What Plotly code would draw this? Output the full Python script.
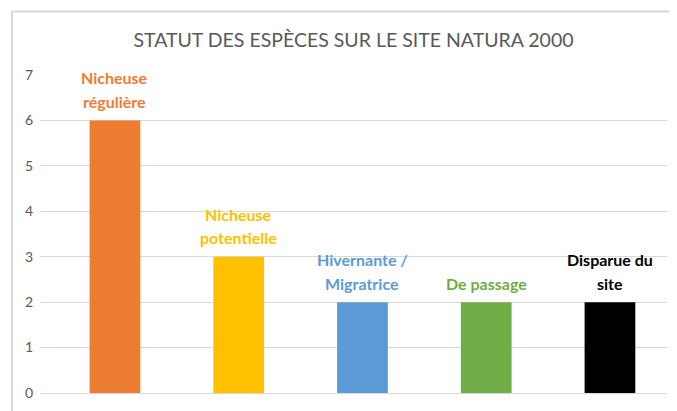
import plotly.graph_objects as go

categories = ["Nicheuse<br>régulière", "Nicheuse<br>potentielle", "Hivernante /<br>Migratrice", "De passage", "Disparue du<br>site"]
values = [6, 3, 2, 2, 2]
colors = ["#ED7D31", "#FFC000", "#5B9BD5", "#70AD47", "#000000"]
title = "STATUT DES ESPÈCES SUR LE SITE NATURA 2000"

font_family = "Lato, 'Open Sans', sans-serif"

fig = go.Figure()
fig.add_trace(go.Bar(
    x=list(range(len(categories))),
    y=values,
    marker=dict(color=colors, line=dict(width=0)),
    width=0.41,
    hoverinfo="skip",
))

annotations = []
for i, (cat, val, col) in enumerate(zip(categories, values, colors)):
    lines = cat.split("<br>")
    n = len(lines)
    for j, line in enumerate(lines):
        k = n - 1 - j  # index from bottom
        annotations.append(dict(
            x=i, y=val, xref="x", yref="y", text=line, showarrow=False,
            xanchor="center", yanchor="middle", yshift=19 + 23.5 * k,
            font=dict(size=16, color=col, family=font_family, weight="bold"),
        ))

fig.update_layout(
    width=669, height=403,
    margin=dict(l=32, r=10, t=67, b=12),
    paper_bgcolor="white", plot_bgcolor="white",
    title=dict(text=title, x=0.5, xref="paper", xanchor="center", y=0.9206, yanchor="middle",
               font=dict(size=19.5, color="#595959", family=font_family)),
    showlegend=False,
    annotations=annotations,
    xaxis=dict(range=[-0.606, 4.461], showticklabels=False, showgrid=False, zeroline=False,
               showline=False, ticks=""),
    yaxis=dict(range=[0, 7], dtick=1, showgrid=True, gridcolor="#D9D9D9", gridwidth=1,
               zeroline=True, zerolinecolor="#D9D9D9", zerolinewidth=1, showline=False,
               tickfont=dict(size=14, color="#595959", family=font_family), ticks="",
               ticklabelstandoff=6),
    shapes=[dict(type="rect", xref="paper", yref="paper",
                 x0=-0.0447, x1=1.06, y0=-0.1, y1=1.2,
                 line=dict(color="#D9D9D9", width=2), fillcolor="rgba(0,0,0,0)", layer="below")],
)

fig.write_html("out.html")
